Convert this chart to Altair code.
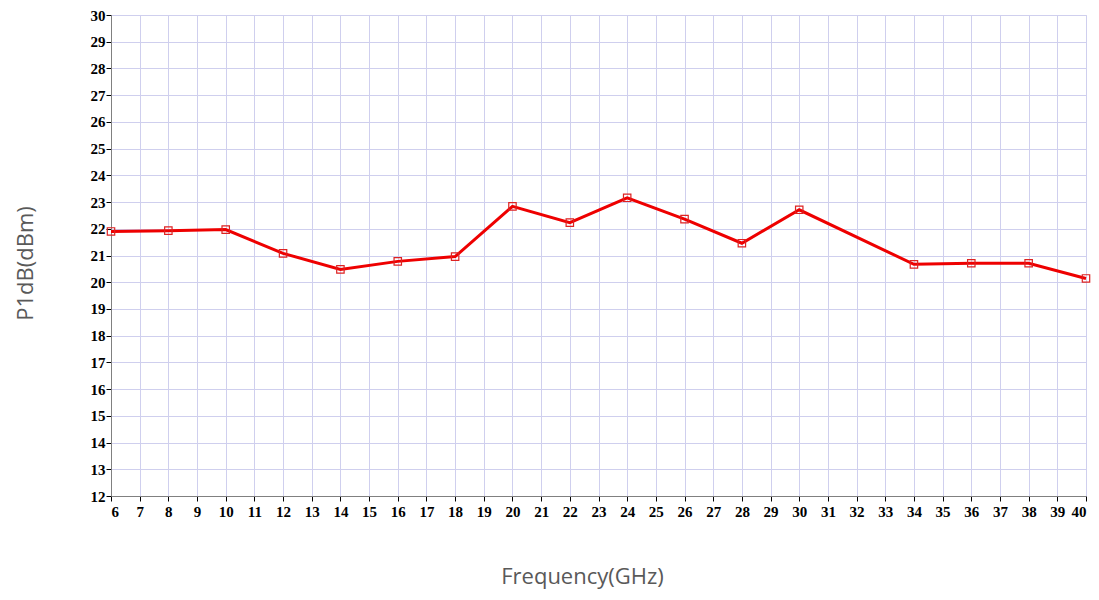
import altair as alt
import pandas as pd

freq = [6, 8, 10, 12, 14, 16, 18, 20, 22, 24, 26, 28, 30, 34, 36, 38, 40]
p1db = [21.9, 21.93, 21.97, 21.08, 20.48, 20.78, 20.96, 22.84, 22.23, 23.16,
        22.36, 21.46, 22.71, 20.67, 20.71, 20.71, 20.14]
x_ticks = list(range(6, 41))
y_ticks = list(range(12, 31))

df = pd.DataFrame({"freq": freq, "p1db": p1db})

label_font = "Liberation Serif"
title_font = "Open Sans"

x_enc = alt.X("freq:Q", scale=alt.Scale(domain=[6, 40], nice=False),
              axis=alt.Axis(values=x_ticks, title="Frequency(GHz)",
                            labelFont=label_font, labelFontWeight="bold", labelFontSize=15,
                            labelColor="#000000", labelPadding=3,
                            tickColor="#000000", tickSize=5, tickWidth=1,
                            domainColor="#808080", domainWidth=1,
                            gridColor="#cfcfee", gridWidth=1,
                            titleFont=title_font, titleFontSize=22, titleFontWeight="normal",
                            titleColor="#595959", titleX=471, titleY=70, titleBaseline="top"))
y_enc = alt.Y("p1db:Q", scale=alt.Scale(domain=[12, 30], nice=False),
              axis=alt.Axis(values=y_ticks, title="P1dB(dBm)",
                            labelFont=label_font, labelFontWeight="bold", labelFontSize=15,
                            labelColor="#000000", labelPadding=1,
                            tickColor="#000000", tickSize=5, tickWidth=1,
                            domainColor="#808080", domainWidth=1,
                            gridColor="#cfcfee", gridWidth=1,
                            titleFont=title_font, titleFontSize=22, titleFontWeight="normal",
                            titleColor="#595959", titleX=-86, titleY=248,
                            titleBaseline="middle", titleAngle=270))

base = alt.Chart(df).encode(x=x_enc, y=y_enc)
line = base.mark_line(color="#ee0000", strokeWidth=3)
pts = base.mark_point(shape="square", size=55, filled=False, color="#dd2222",
                      strokeWidth=1.2, opacity=1)

chart = (line + pts).properties(
    width=975, height=481,
    autosize=alt.AutoSizeParams(type="none"),
    padding={"left": 103, "top": 7, "right": 5, "bottom": 100},
).configure_view(stroke="#909090", strokeWidth=1).configure(background="white")

chart.save("out.html", embed_options={"renderer": "svg", "actions": False})
